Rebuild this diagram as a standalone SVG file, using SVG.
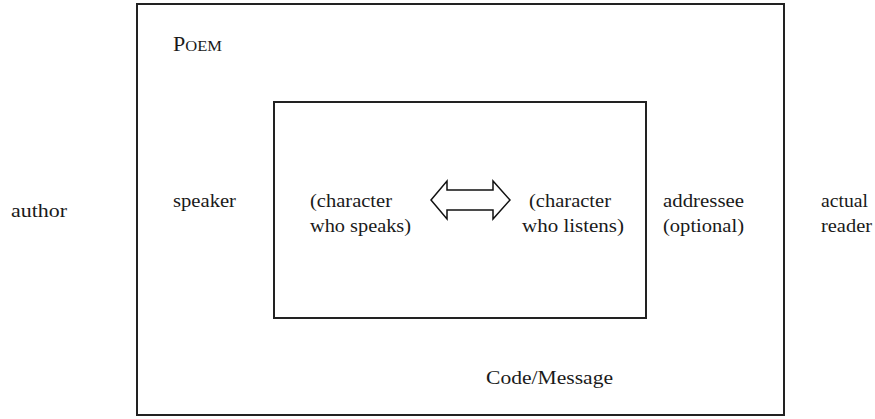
<svg xmlns="http://www.w3.org/2000/svg" width="875" height="419" viewBox="0 0 875 419">
<style>
.box{fill:none;stroke:#222;stroke-width:2}
.t{font-family:"Liberation Serif",serif;font-size:19px;fill:#1a1a1a}
.sc{font-family:"Liberation Serif",serif;fill:#1a1a1a}
</style>
<rect width="875" height="419" fill="#fff"/>
<g id="poem">
<rect class="box" x="137" y="4" width="647" height="411"/>
<text class="sc" x="173" y="51" textLength="49" lengthAdjust="spacingAndGlyphs"><tspan font-size="20">P</tspan><tspan font-size="15">OEM</tspan></text>
<text class="t" x="486" y="384" textLength="127" lengthAdjust="spacingAndGlyphs">Code/Message</text>
</g>
<g id="inner">
<rect class="box" x="274" y="102" width="372" height="216"/>
</g>
<g id="author"><text class="t" x="11" y="217" textLength="56" lengthAdjust="spacingAndGlyphs">author</text></g>
<g id="speaker"><text class="t" x="173" y="207" textLength="63" lengthAdjust="spacingAndGlyphs">speaker</text></g>
<g id="character-speaks">
<text class="t" x="310" y="207" textLength="82" lengthAdjust="spacingAndGlyphs">(character</text>
<text class="t" x="310" y="232" textLength="101" lengthAdjust="spacingAndGlyphs">who speaks)</text>
</g>
<g id="character-listens">
<text class="t" x="529" y="207" textLength="82" lengthAdjust="spacingAndGlyphs">(character</text>
<text class="t" x="522" y="232" textLength="102" lengthAdjust="spacingAndGlyphs">who listens)</text>
</g>
<g id="addressee">
<text class="t" x="663" y="207" textLength="81" lengthAdjust="spacingAndGlyphs">addressee</text>
<text class="t" x="663" y="232" textLength="81" lengthAdjust="spacingAndGlyphs">(optional)</text>
</g>
<g id="reader">
<text class="t" x="821" y="207" textLength="47" lengthAdjust="spacingAndGlyphs">actual</text>
<text class="t" x="821" y="232" textLength="51" lengthAdjust="spacingAndGlyphs">reader</text>
</g>
<g id="connectors">
<polygon points="431,200 447,181 447,190 493,190 493,181 510,200 493,219 493,210 447,210 447,219" fill="#fff" stroke="#111" stroke-width="1.5" stroke-linejoin="miter"/>
</g>
</svg>
